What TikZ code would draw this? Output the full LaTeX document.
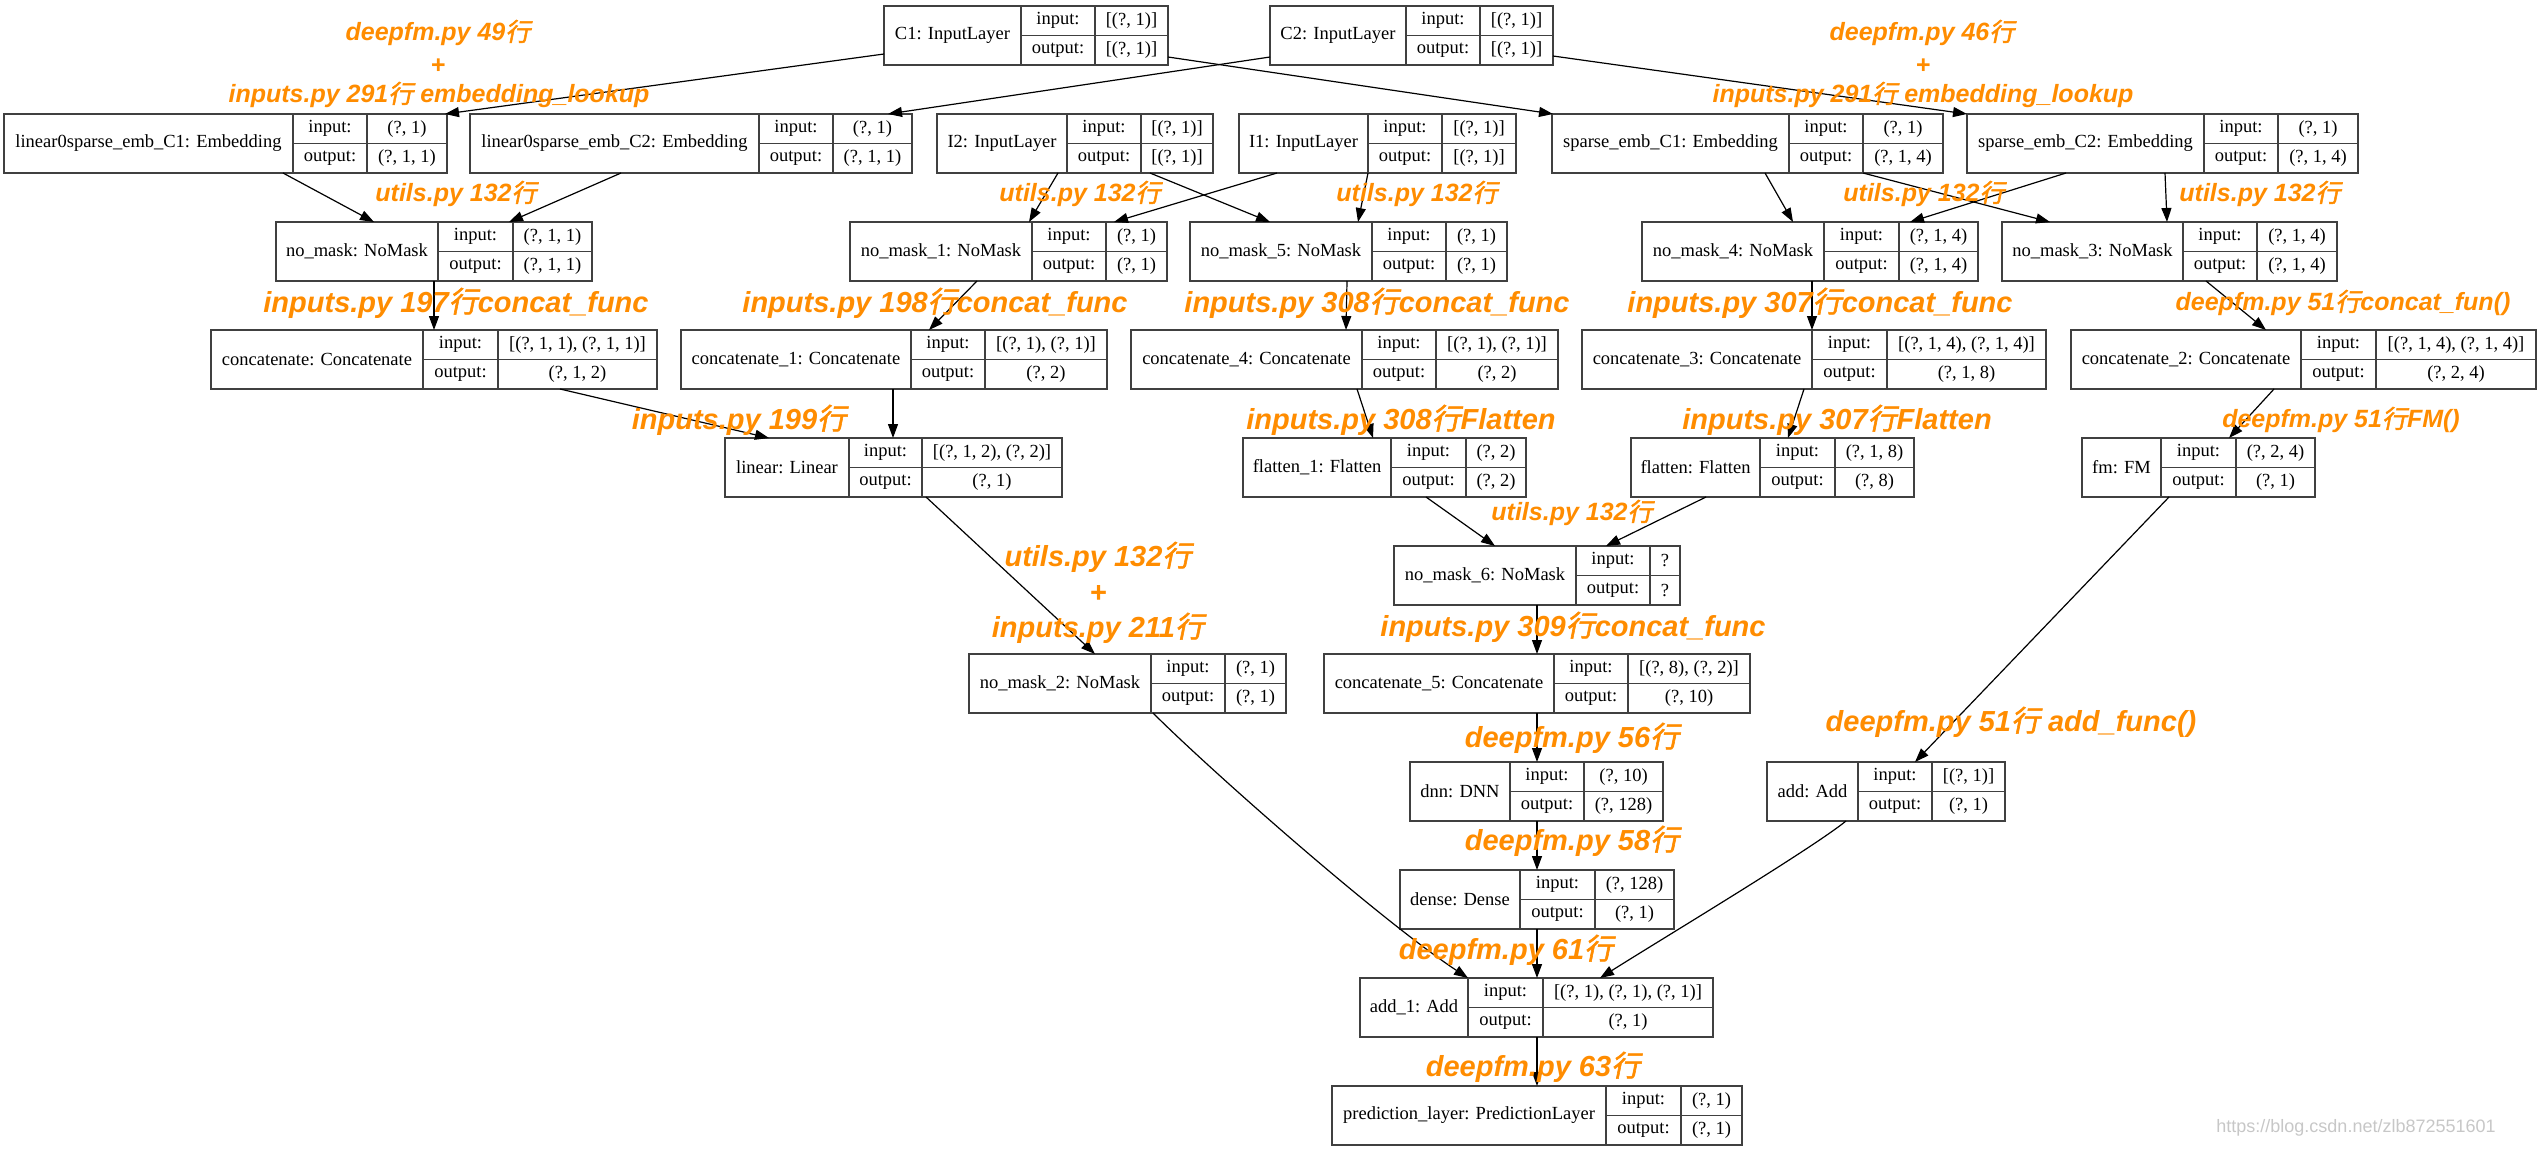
\documentclass[tikz,border=0pt]{standalone}
\usepackage{fontspec}
\setmainfont{Liberation Serif}
\newfontfamily\tagfont{Liberation Sans}
\newfontfamily\cjk[FakeSlant=0.2,FakeBold=2]{Noto Sans CJK SC}
\usetikzlibrary{arrows.meta}

\definecolor{fmorange}{RGB}{255,140,0}
\newcommand\hz{{\cjk\mdseries\upshape 行}}

% one keras layer: name, left, top, div1, div2, right, title, input, output
\newcommand\layerbox[9]{%
    \node[box, minimum width={#6-#2}, anchor=north west] (#1) at (#2,#3) {};
    \node[cell] (#1-n) at ({(#2+#4)/2},{#3+29.5}) {#7};
    \draw[cellline] (#4,#3) -- (#4,{#3+59}) (#5,#3) -- (#5,{#3+59}) (#4,{#3+29.5}) -- (#6,{#3+29.5});
    \node[cell] (#1-a) at ({(#4+#5)/2},{#3+14.75}) {input:};
    \node[cell] (#1-b) at ({(#4+#5)/2},{#3+44.25}) {output:};
    \node[cell] (#1-c) at ({(#5+#6)/2},{#3+14.75}) {#8};
    \node[cell] (#1-d) at ({(#5+#6)/2},{#3+44.25}) {#9};
}

\begin{document}
\begin{tikzpicture}[x=1pt, y=-1pt,
    box/.style={draw=black!75, line width=1.8pt, minimum height=59, inner sep=0, outer sep=0},
    cellline/.style={draw=black!75, line width=1.8pt},
    cell/.style={font=\fontsize{18.5}{18.5}\selectfont, inner sep=0},
    edge/.style={-{Triangle[length=14pt,width=10pt]}, line width=1.2pt},
    tag/.style={font=\tagfont\bfseries\itshape\fontsize{25}{25}\selectfont, text=fmorange, inner sep=0},
    bigtag/.style={tag, font=\tagfont\bfseries\itshape\fontsize{29}{29}\selectfont}]
    \useasboundingbox (0,0) rectangle (2539,1151);

    % inputs
    \layerbox{c1}{884}{6}{1021}{1095}{1168}{C1: InputLayer}{[(?, 1)]}{[(?, 1)]}
    \layerbox{c2}{1270}{6}{1406}{1480}{1553}{C2: InputLayer}{[(?, 1)]}{[(?, 1)]}

    \layerbox{lin1}{4}{114}{293}{367}{447}{linear0sparse\_emb\_C1: Embedding}{(?, 1)}{(?, 1, 1)}
    \layerbox{lin2}{470}{114}{759}{833}{912}{linear0sparse\_emb\_C2: Embedding}{(?, 1)}{(?, 1, 1)}
    \layerbox{i2}{937}{114}{1067}{1141}{1213}{I2: InputLayer}{[(?, 1)]}{[(?, 1)]}
    \layerbox{i1}{1239}{114}{1368}{1442}{1516}{I1: InputLayer}{[(?, 1)]}{[(?, 1)]}
    \layerbox{emb1}{1552}{114}{1789}{1863}{1943}{sparse\_emb\_C1: Embedding}{(?, 1)}{(?, 1, 4)}
    \layerbox{emb2}{1967}{114}{2204}{2278}{2358}{sparse\_emb\_C2: Embedding}{(?, 1)}{(?, 1, 4)}

    % masks
    \layerbox{nm}{276}{222}{438}{513}{592}{no\_mask: NoMask}{(?, 1, 1)}{(?, 1, 1)}
    \layerbox{nm1}{850}{222}{1032}{1106}{1167}{no\_mask\_1: NoMask}{(?, 1)}{(?, 1)}
    \layerbox{nm5}{1190}{222}{1372}{1446}{1507}{no\_mask\_5: NoMask}{(?, 1)}{(?, 1)}
    \layerbox{nm4}{1642}{222}{1824}{1899}{1978}{no\_mask\_4: NoMask}{(?, 1, 4)}{(?, 1, 4)}
    \layerbox{nm3}{2002}{222}{2183}{2257}{2337}{no\_mask\_3: NoMask}{(?, 1, 4)}{(?, 1, 4)}

    % concatenations
    \layerbox{cat}{211}{330}{423}{498}{657}{concatenate: Concatenate}{[(?, 1, 1), (?, 1, 1)]}{(?, 1, 2)}
    \layerbox{cat1}{681}{330}{911}{985}{1107}{concatenate\_1: Concatenate}{[(?, 1), (?, 1)]}{(?, 2)}
    \layerbox{cat4}{1131}{330}{1362}{1436}{1558}{concatenate\_4: Concatenate}{[(?, 1), (?, 1)]}{(?, 2)}
    \layerbox{cat3}{1582}{330}{1812}{1887}{2046}{concatenate\_3: Concatenate}{[(?, 1, 4), (?, 1, 4)]}{(?, 1, 8)}
    \layerbox{cat2}{2071}{330}{2301}{2376}{2536}{concatenate\_2: Concatenate}{[(?, 1, 4), (?, 1, 4)]}{(?, 2, 4)}

    \layerbox{linear}{725}{438}{849}{922}{1062}{linear: Linear}{[(?, 1, 2), (?, 2)]}{(?, 1)}
    \layerbox{flat1}{1243}{438}{1391}{1466}{1526}{flatten\_1: Flatten}{(?, 2)}{(?, 2)}
    \layerbox{flat}{1631}{438}{1760}{1835}{1914}{flatten: Flatten}{(?, 1, 8)}{(?, 8)}
    \layerbox{fm}{2082}{438}{2161}{2236}{2315}{fm: FM}{(?, 2, 4)}{(?, 1)}

    \layerbox{nm6}{1394}{546}{1576}{1650}{1680}{no\_mask\_6: NoMask}{?}{?}
    \layerbox{nm2}{969}{654}{1151}{1225}{1286}{no\_mask\_2: NoMask}{(?, 1)}{(?, 1)}
    \layerbox{cat5}{1324}{654}{1554}{1628}{1750}{concatenate\_5: Concatenate}{[(?, 8), (?, 2)]}{(?, 10)}
    \layerbox{dnn}{1410}{762}{1510}{1584}{1663}{dnn: DNN}{(?, 10)}{(?, 128)}
    \layerbox{add}{1767}{762}{1858}{1932}{2005}{add: Add}{[(?, 1)]}{(?, 1)}
    \layerbox{dense}{1400}{870}{1520}{1595}{1674}{dense: Dense}{(?, 128)}{(?, 1)}
    \layerbox{add1}{1360}{978}{1468}{1543}{1713}{add\_1: Add}{[(?, 1), (?, 1), (?, 1)]}{(?, 1)}
    \layerbox{pred}{1332}{1086}{1606}{1681}{1742}{prediction\_layer: PredictionLayer}{(?, 1)}{(?, 1)}

    % edges
    \draw[edge] (c1.west |- 0,54) -- (445,0 |- lin1.north);
    \draw[edge] (c1.east |- 0,57) -- (1553,0 |- emb1.north);
    \draw[edge] (c2.west |- 0,57) -- (888,0 |- lin2.north);
    \draw[edge] (c2.east |- 0,56) -- (1967,0 |- emb2.north);
    \draw[edge] (283,0 |- lin1.south) -- (374,0 |- nm.north);
    \draw[edge] (621,0 |- lin2.south) -- (509,0 |- nm.north);
    \draw[edge] (1058,0 |- i2.south) -- (1029,0 |- nm1.north);
    \draw[edge] (1150,0 |- i2.south) -- (1270,0 |- nm5.north);
    \draw[edge] (1277,0 |- i1.south) -- (1114,0 |- nm1.north);
    \draw[edge] (1368,0 |- i1.south) -- (1358,0 |- nm5.north);
    \draw[edge] (1765,0 |- emb1.south) -- (1793,0 |- nm4.north);
    \draw[edge] (1863,0 |- emb1.south) -- (2050,0 |- nm3.north);
    \draw[edge] (2066,0 |- emb2.south) -- (1910,0 |- nm4.north);
    \draw[edge] (2165,0 |- emb2.south) -- (2167,0 |- nm3.north);
    \draw[edge] (434,0 |- nm.south) -- (434,0 |- cat.north);
    \draw[edge] (977,0 |- nm1.south) -- (929,0 |- cat1.north);
    \draw[edge] (1347,0 |- nm5.south) -- (1346,0 |- cat4.north);
    \draw[edge] (1812,0 |- nm4.south) -- (1812,0 |- cat3.north);
    \draw[edge] (2206,0 |- nm3.south) -- (2266,0 |- cat2.north);
    \draw[edge] (560,0 |- cat.south) -- (769,0 |- linear.north);
    \draw[edge] (893,0 |- cat1.south) -- (893,0 |- linear.north);
    \draw[edge] (1357,0 |- cat4.south) -- (1373,0 |- flat1.north);
    \draw[edge] (1804,0 |- cat3.south) -- (1788,0 |- flat.north);
    \draw[edge] (2274,0 |- cat2.south) -- (2229,0 |- fm.north);
    \draw[edge] (1426,0 |- flat1.south) -- (1495,0 |- nm6.north);
    \draw[edge] (1706,0 |- flat.south) -- (1606,0 |- nm6.north);
    \draw[edge] (926,0 |- linear.south) -- (1095,0 |- nm2.north);
    \draw[edge] (1537,0 |- nm6.south) -- (1537,0 |- cat5.north);
    \draw[edge] (1537,0 |- cat5.south) -- (1537,0 |- dnn.north);
    \draw[edge] (1537,0 |- dnn.south) -- (1537,0 |- dense.north);
    \draw[edge] (1537,0 |- dense.south) -- (1537,0 |- add1.north);
    \draw[edge] (1537,0 |- add1.south) -- (1537,0 |- pred.north);
    \draw[edge] (2169,0 |- fm.south) -- (1915,0 |- add.north);
    \draw[edge] (1846,0 |- add.south) .. controls (1810,850) and (1660,940) .. (1600,0 |- add1.north);
    \draw[edge] (1153,0 |- nm2.south) .. controls (1210,770) and (1380,920) .. (1468,0 |- add1.north);

    % source notes
    \node[tag] (n49) at (438,33) {deepfm.py 49\hz};
    \node[tag] (p49) at (438,66) {+};
    \node[tag] (n291a) at (439,95) {inputs.py 291\hz\ embedding\_lookup};
    \node[tag] (n46) at (1922,33) {deepfm.py 46\hz};
    \node[tag] (p46) at (1923,66) {+};
    \node[tag] (n291b) at (1923,95) {inputs.py 291\hz\ embedding\_lookup};
    \foreach \x [count=\k] in {456,1080,1417,1924,2260}
        \node[tag] (u\k) at (\x,194) {utils.py 132\hz};
    \node[bigtag] (n197) at (456,303) {inputs.py 197\hz concat\_func};
    \node[bigtag] (n198) at (935,303) {inputs.py 198\hz concat\_func};
    \node[bigtag] (n308c) at (1377,303) {inputs.py 308\hz concat\_func};
    \node[bigtag] (n307c) at (1820,303) {inputs.py 307\hz concat\_func};
    \node[tag] (n51c) at (2343,303) {deepfm.py 51\hz concat\_fun()};
    \node[bigtag] (n199) at (739,420) {inputs.py 199\hz};
    \node[bigtag] (n308f) at (1401,420) {inputs.py 308\hz Flatten};
    \node[bigtag] (n307f) at (1837,420) {inputs.py 307\hz Flatten};
    \node[tag] (n51f) at (2341,420) {deepfm.py 51\hz FM()};
    \node[tag] (u6) at (1572,513) {utils.py 132\hz};
    \node[bigtag] (u7) at (1098,557) {utils.py 132\hz};
    \node[bigtag] (p211) at (1098,594) {+};
    \node[bigtag] (n211) at (1098,628) {inputs.py 211\hz};
    \node[bigtag] (n309) at (1573,627) {inputs.py 309\hz concat\_func};
    \node[bigtag] (n56) at (1572,738) {deepfm.py 56\hz};
    \node[bigtag] (n51a) at (2011,722) {deepfm.py 51\hz\ add\_func()};
    \node[bigtag] (n58) at (1572,841) {deepfm.py 58\hz};
    \node[bigtag] (n61) at (1506,950) {deepfm.py 61\hz};
    \node[bigtag] (n63) at (1533,1067) {deepfm.py 63\hz};

    \node[font=\tagfont\fontsize{18}{18}\selectfont, text=black!22, inner sep=0] (mark) at (2356,1128) {https://blog.csdn.net/zlb872551601};
\end{tikzpicture}
\end{document}
